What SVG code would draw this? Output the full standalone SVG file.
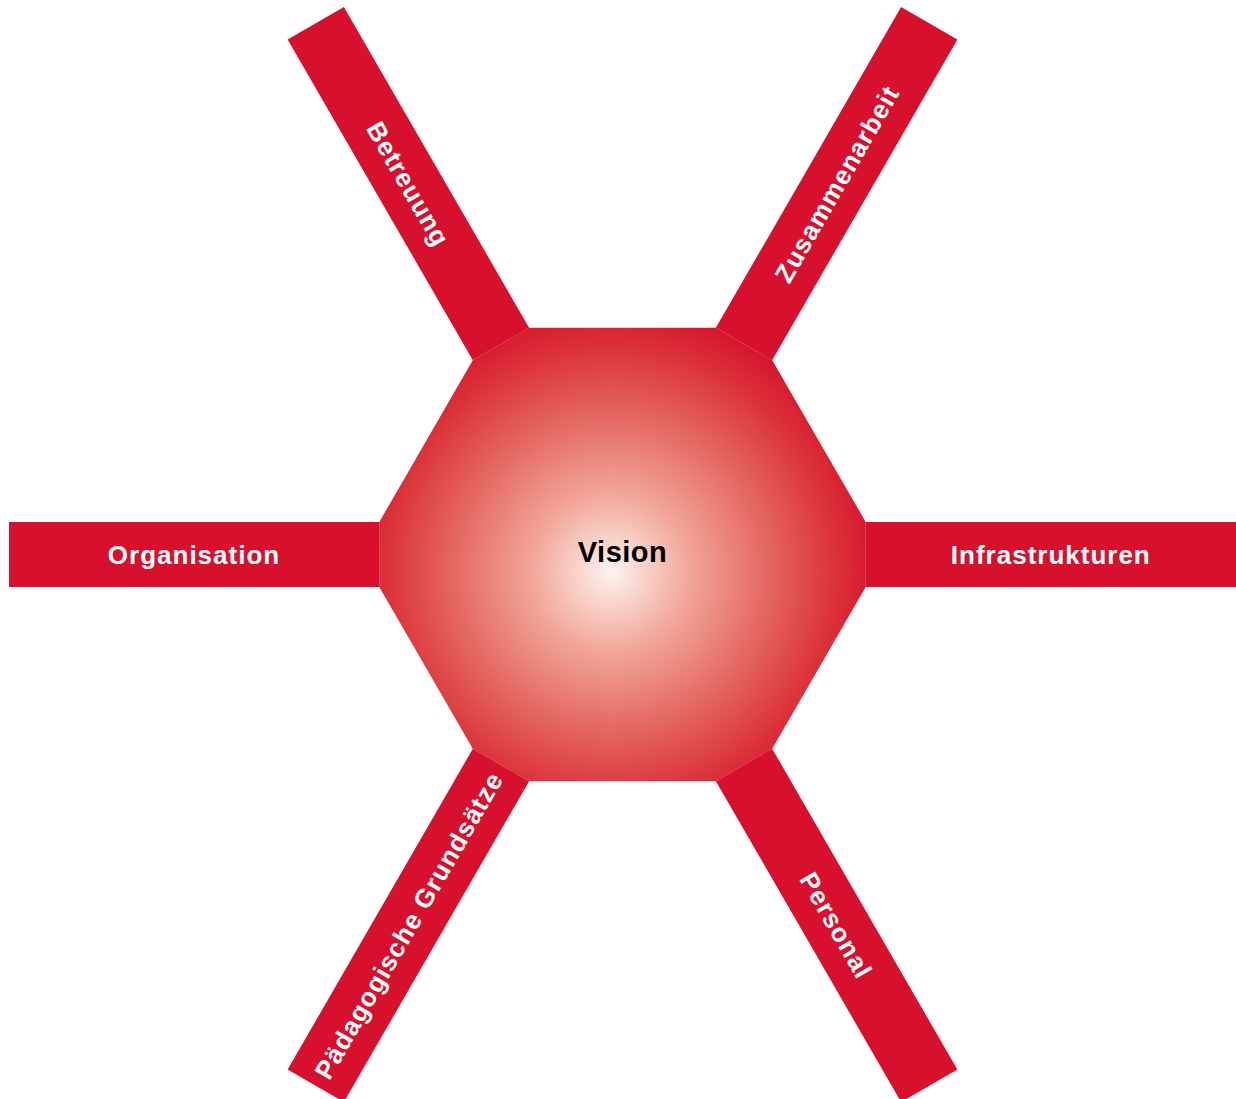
<svg xmlns="http://www.w3.org/2000/svg" width="1236" height="1099" viewBox="0 0 1236 1099">
<style>
.bar{fill:#d7102d}
.lbl{font-family:"Liberation Sans",Arial,sans-serif;font-weight:bold;font-size:26px;fill:#ffffff;text-anchor:middle;letter-spacing:1px}
.center{font-family:"Liberation Sans",Arial,sans-serif;font-weight:bold;font-size:29px;fill:#000000;text-anchor:middle;letter-spacing:0.5px}
</style>
<defs>
<radialGradient id="glow" gradientUnits="userSpaceOnUse" cx="-12" cy="18" r="265">
<stop offset="0" stop-color="#fdf3ef"/>
<stop offset="0.3" stop-color="#f1a698"/>
<stop offset="0.6" stop-color="#e46660"/>
<stop offset="0.85" stop-color="#db3239"/>
<stop offset="1" stop-color="#d7162e"/>
</radialGradient>
</defs>
<rect width="1236" height="1099" fill="#ffffff"/>
<g transform="translate(622.5,554.5)">
<g id="connectors">
<rect class="bar" x="243" y="-32.5" width="370.5" height="65" transform="rotate(0)"/>
<rect class="bar" x="243" y="-32.5" width="370.5" height="65" transform="rotate(60)"/>
<rect class="bar" x="243" y="-32.5" width="370.5" height="65" transform="rotate(120)"/>
<rect class="bar" x="243" y="-32.5" width="370.5" height="65" transform="rotate(180)"/>
<rect class="bar" x="243" y="-32.5" width="370.5" height="65" transform="rotate(240)"/>
<rect class="bar" x="243" y="-32.5" width="370.5" height="65" transform="rotate(300)"/>
</g>
<g id="vision">
<polygon fill="url(#glow)" points="-93.45,-226.85 93.45,-226.85 149.75,-194.35 243.2,-32.5 243.2,32.5 149.75,194.35 93.45,226.85 -93.45,226.85 -149.75,194.35 -243.2,32.5 -243.2,-32.5 -149.75,-194.35"/>
<text class="center" x="0" y="7.5">Vision</text>
</g>
<g id="betreuung"><text class="lbl" transform="translate(-214,-370.7) rotate(60)" y="9.5">Betreuung</text></g>
<g id="zusammenarbeit"><text class="lbl" transform="translate(214,-370.7) rotate(-60)" y="9.5">Zusammenarbeit</text></g>
<g id="organisation"><text class="lbl" x="-428.5" y="9.8">Organisation</text></g>
<g id="infrastrukturen"><text class="lbl" x="428.3" y="9.8">Infrastrukturen</text></g>
<g id="paedagogik"><text class="lbl" transform="translate(-214,370.7) rotate(-60)" y="9.5">Pädagogische Grundsätze</text></g>
<g id="personal"><text class="lbl" transform="translate(214,370.7) rotate(60)" y="9.5">Personal</text></g>
</g>
</svg>
